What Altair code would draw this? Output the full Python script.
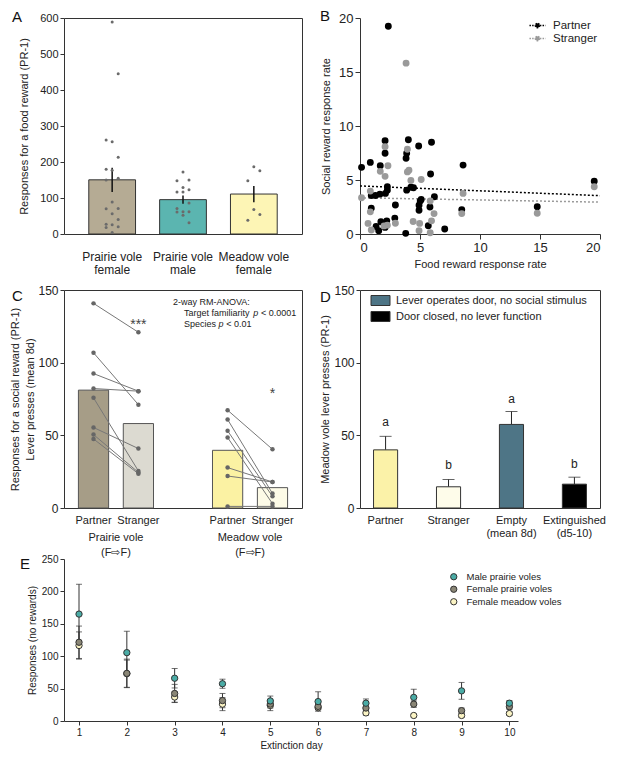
import altair as alt
import pandas as pd

FONT = "Liberation Sans"
INK = "#222222"
FRAME = "#333333"

# ---------------- sizes ----------------
WA, HA = 238, 216
WB, HB = 240, 216
WC, HC = 238, 218
WD, HD = 240, 218
WE, HE = 454, 162

# ---------------- Panel A data ----------------
a_groups = ["Prairie vole\nfemale", "Prairie vole\nmale", "Meadow vole\nfemale"]
a_means = [150.5, 95.4, 111.0]
a_sems = [33.5, 11.7, 22.5]
a_colors = ["#b5ab94", "#5bb5b0", "#fdf5b5"]
a_female = [589, 445, 261, 256, 213, 180, 177, 155, 150, 89, 71, 70, 56, 40, 27, 26, 20, 18, 4]
a_male = [172, 150, 148, 129, 123, 117, 117, 86, 71, 62, 61, 62, 52, 31]
a_meadow = [187, 176, 148, 68, 54, 38]

# ---------------- Panel B data ----------------
b_partner_x = [2.36, 2.09, 4.03, 5.96, 2.09, 3.89, 3.84, 4.89, 0.86, 1.69, 0.13, 5.88, 8.59,
               2.28, 2.28, 2.12, 3.89, 4.24, 4.46, 0.94, 1.29, 1.66, 6.2, 5.1, 5.02, 0.94,
               2.95, 4.92, 4.92, 5.83, 8.48, 2.9, 2.23, 1.74, 1.34, 1.56, 2.09, 5.69, 7.06,
               3.81, 14.77, 19.52]
b_partner_y = [19.24, 8.64, 8.73, 8.49, 7.48, 7.48, 7.02, 8.15, 6.63, 6.32, 6.17, 5.56, 6.38,
               4.37, 4.06, 3.76, 4.06, 4.33, 4.28, 3.57, 3.57, 3.69, 3.45, 3.2, 3.05, 2.38,
               2.69, 2.66, 2.2, 2.5, 2.26, 1.47, 1.22, 1.13, 0.7, 0.31, 0.61, 0.76, 0.46,
               0.06, 2.53, 4.89]
b_stranger_x = [3.84, 2.09, 3.95, 2.33, 1.69, 3.95, 4.08, 2.09, 4.24, 5.1, 0.13, 0.86, 0.86,
                8.59, 5.85, 6.17, 8.48, 14.77, 19.52, 0.67, 0.94, 2.28, 2.95, 4.43, 4.97,
                4.92, 5.96, 5.85, 2.0]
b_stranger_y = [15.82, 8.09, 7.85, 6.32, 5.8, 5.75, 5.9, 5.34, 4.95, 5.04, 3.36, 3.97, 2.05,
                3.76, 3.05, 1.89, 1.89, 1.92, 4.37, 0.98, 0.37, 0.82, 1.0, 1.16, 0.98,
                0.31, 1.22, 0.12, 0.75]
b_series = ["Partner", "Stranger"]
b_colors = ["#000000", "#9a9a9a"]
b_fit_x = [0, 20]
b_partner_fit = [4.45, 3.55]
b_stranger_fit = [3.35, 2.95]

# ---------------- Panel C data ----------------
c_species = ["Prairie vole\n(F\u21e8F)", "Meadow vole\n(F\u21e8F)"]
c_fam = ["Partner", "Stranger"]
c_means_prairie = [81.1, 58.1]
c_means_meadow = [39.7, 14.0]
c_colors = ["#a69d87", "#dcdad1", "#fbf2a3", "#fdfbe7"]
c_prairie_partner = [140.8, 106.8, 92.5, 82.2, 75.8, 55.4, 50.5, 47.5]
c_prairie_stranger = [120.9, 71.1, 80.4, 80.4, 25.5, 40.9, 24.5, 23.6]
c_meadow_partner = [67.3, 60.9, 53.1, 48.5, 27.8, 22.0, 1.1]
c_meadow_stranger = [40.4, 10.0, 8.0, 3.0, 17.9, 17.9, 1.1]
c_stars = ["***", "*"]
c_star_y = [128.6, 81.0]

# ---------------- Panel D data ----------------
d_cats = ["Partner", "Stranger", "Empty\n(mean 8d)", "Extinguished\n(d5-10)"]
d_means = [40.0, 14.6, 57.5, 16.4]
d_sems = [9.3, 5.0, 8.9, 4.8]
d_colors = ["#fbf2a8", "#fefcea", "#4e7586", "#000000"]
d_letters = ["a", "b", "a", "b"]
d_letter_y = [59.0, 29.5, 75.0, 30.6]
d_legend_labels = ["Lever operates door, no social stimulus", "Door closed, no lever function"]

# ---------------- Panel E data ----------------
e_days = [1, 2, 3, 4, 5, 6, 7, 8, 9, 10]
e_series = ["Male prairie voles", "Female prairie voles", "Female meadow voles"]
e_colors = ["#4aaca6", "#8a8676", "#fbf4c4"]
e_male_mean = [165.0, 105.5, 66.0, 57.5, 31.0, 30.0, 27.5, 36.5, 46.5, 27.5]
e_male_sem = [46.0, 33.0, 15.0, 7.0, 7.5, 15.0, 6.5, 12.5, 13.0, 4.0]
e_fp_mean = [121.5, 73.5, 42.5, 31.5, 26.0, 22.5, 20.0, 26.0, 16.0, 22.0]
e_fp_sem = [25.0, 22.0, 14.0, 11.0, 6.0, 4.0, 5.0, 5.0, 4.0, 4.0]
e_fm_mean = [116.5, 73.0, 37.0, 26.0, 24.0, 20.5, 12.5, 8.5, 8.5, 11.5]
e_fm_sem = [21.0, 21.0, 8.0, 10.0, 8.0, 3.0, 3.5, 2.0, 3.0, 3.0]


def letter(ch, x, y):
    return alt.Chart(pd.DataFrame({"t": [ch]})).mark_text(
        fontSize=15, align="left", baseline="alphabetic", color="#111111", font=FONT
    ).encode(text="t:N", x=alt.value(x), y=alt.value(y))


# ================= Panel A =================
a_bar_df = pd.DataFrame({"group": a_groups, "mean": a_means, "sem": a_sems})
a_bar_df["lo"] = a_bar_df["mean"] - a_bar_df["sem"]
a_bar_df["hi"] = a_bar_df["mean"] + a_bar_df["sem"]
a_dot_df = pd.DataFrame({
    "group": [a_groups[0]] * len(a_female) + [a_groups[1]] * len(a_male) + [a_groups[2]] * len(a_meadow),
    "gidx": [0] * len(a_female) + [1] * len(a_male) + [2] * len(a_meadow),
    "value": a_female + a_male + a_meadow,
})
xA = alt.X("group:N", sort=a_groups, scale=alt.Scale(paddingInner=0.34, paddingOuter=0.35),
           axis=alt.Axis(title=None, labelExpr="split(datum.label, '\\n')", labelAngle=0, ticks=False,
                         domain=False, labelFontSize=12, labelPadding=17, labelLineHeight=13))
yA_scale = alt.Scale(domain=[0, 600], nice=False)
yA_axis = alt.Axis(title="Responses for a food reward (PR-1)", values=[0, 100, 200, 300, 400, 500, 600],
                   tickSize=4, labelFontSize=11, titleFontSize=11, titlePadding=10, domain=False)
a_bars = alt.Chart(a_bar_df).mark_bar(stroke=FRAME, strokeWidth=1).encode(
    x=xA, y=alt.Y("mean:Q", scale=yA_scale, axis=yA_axis),
    color=alt.Color("group:N", scale=alt.Scale(domain=a_groups, range=a_colors), legend=None))
a_err = alt.Chart(a_bar_df).mark_rule(color="#111111", strokeWidth=1.5).encode(
    x=xA, y=alt.Y("lo:Q", scale=yA_scale, axis=yA_axis), y2="hi:Q")
a_dots = alt.Chart(a_dot_df).transform_window(
    rank="row_number()", groupby=["group"], sort=[alt.SortField("value", order="descending")]
).transform_calculate(xp="datum.gidx + ((datum.rank % 3) - 1) * 0.085").mark_circle(
    size=9, color="#6b6b6b", opacity=1).encode(
    x=alt.X("xp:Q", scale=alt.Scale(domain=[-0.68, 2.68], nice=False, zero=False), axis=None),
    y=alt.Y("value:Q", scale=yA_scale, axis=yA_axis))
a_main = alt.layer(a_bars, a_err)
panelA = alt.layer(a_main, a_dots, letter("A", -52, 4)).resolve_scale(x="independent").properties(
    width=WA, height=HA, view=alt.ViewBackground(stroke=FRAME, strokeWidth=1))

# ================= Panel B =================
b_df = pd.DataFrame({
    "x": b_partner_x + b_stranger_x,
    "y": b_partner_y + b_stranger_y,
    "series": ["Partner"] * len(b_partner_x) + ["Stranger"] * len(b_stranger_x),
})
b_fit_df = pd.DataFrame({
    "x": b_fit_x + b_fit_x,
    "y": b_partner_fit + b_stranger_fit,
    "series": ["Partner"] * 2 + ["Stranger"] * 2,
})
b_scale = alt.Scale(domain=b_series, range=b_colors)
b_legend = alt.Legend(title=None, orient="none", legendX=170, legendY=0,
                      symbolType="M-1.2,0L-0.35,0M0.35,0L1.2,0M0.33,0A0.33,0.33,0,1,1,-0.33,0A0.33,0.33,0,1,1,0.33,0Z",
                      symbolSize=180, symbolStrokeWidth=1.4, symbolDash=[1.5, 1.2],
                      labelFontSize=11.5, labelOffset=8, rowPadding=0, labelColor=INK)
bx = alt.X("x:Q", scale=alt.Scale(domain=[0, 20], nice=False),
           axis=alt.Axis(title="Food reward response rate", values=[0, 5, 10, 15, 20], tickSize=5,
                         labelFontSize=13, titleFontSize=11, titlePadding=4))
by = alt.Y("y:Q", scale=alt.Scale(domain=[0, 20], nice=False),
           axis=alt.Axis(title="Social reward response rate", values=[0, 5, 10, 15, 20], tickSize=5,
                         labelFontSize=13, titleFontSize=11, titlePadding=7))
b_fit = alt.Chart(b_fit_df).mark_line(strokeDash=[2, 2], strokeWidth=1.5).encode(
    x=bx, y=by, color=alt.Color("series:N", scale=b_scale, legend=b_legend))
b_pts = alt.Chart(b_df).mark_circle(size=24, opacity=1).encode(
    x=bx, y=by,
    color=alt.Color("series:N", scale=b_scale, legend=b_legend),
    stroke=alt.Stroke("series:N", scale=b_scale, legend=b_legend))
panelB = alt.layer(b_fit, b_pts, letter("B", -40, 3)).properties(
    width=WB, height=HB, view=alt.ViewBackground(stroke="transparent"))

# ================= Panel C =================
c_bar_df = pd.DataFrame({
    "species": [c_species[0]] * 2 + [c_species[1]] * 2,
    "fam": c_fam * 2,
    "mean": c_means_prairie + c_means_meadow,
})
c_bar_df["key"] = c_bar_df["species"] + "|" + c_bar_df["fam"]
c_keys = list(c_bar_df["key"])
rows = []
for i, (p, s) in enumerate(zip(c_prairie_partner, c_prairie_stranger)):
    rows.append({"id": f"p{i}", "species": c_species[0], "fam": "Partner", "value": p})
    rows.append({"id": f"p{i}", "species": c_species[0], "fam": "Stranger", "value": s})
for i, (p, s) in enumerate(zip(c_meadow_partner, c_meadow_stranger)):
    rows.append({"id": f"m{i}", "species": c_species[1], "fam": "Partner", "value": p})
    rows.append({"id": f"m{i}", "species": c_species[1], "fam": "Stranger", "value": s})
c_pair_df = pd.DataFrame(rows)
c_star_df = pd.DataFrame({"species": c_species, "fam": ["Stranger", "Stranger"], "y": c_star_y, "t": c_stars})

xC = alt.X("species:N", sort=c_species, scale=alt.Scale(paddingInner=0.44, paddingOuter=0.1075),
           axis=alt.Axis(title=None, labelExpr="split(datum.label, '\\n')", labelAngle=0, ticks=False,
                         domain=False, labelFontSize=11, labelPadding=23, labelLineHeight=15))
xoC = alt.XOffset("fam:N", sort=c_fam, scale=alt.Scale(paddingInner=0.327, paddingOuter=0))
yC_scale = alt.Scale(domain=[0, 150], nice=False)
yC_axis = alt.Axis(title=["Responses for a social reward (PR-1)", "Lever presses (mean 8d)"],
                   values=[0, 50, 100, 150], tickSize=4, labelFontSize=12, titleFontSize=11,
                   titlePadding=2, titleLineHeight=15, domain=False)
c_bars = alt.Chart(c_bar_df).mark_bar(stroke="#555555", strokeWidth=1).encode(
    x=xC, xOffset=xoC, y=alt.Y("mean:Q", scale=yC_scale, axis=yC_axis),
    color=alt.Color("key:N", scale=alt.Scale(domain=c_keys, range=c_colors), legend=None))
c_lines = alt.Chart(c_pair_df).mark_line(color="#777777", strokeWidth=1).encode(
    x=xC, xOffset=xoC, y=alt.Y("value:Q", scale=yC_scale, axis=yC_axis), detail="id:N",
    order=alt.Order("fam:N"))
c_dots = alt.Chart(c_pair_df).mark_circle(size=20, color="#666666", opacity=1).encode(
    x=xC, xOffset=xoC, y=alt.Y("value:Q", scale=yC_scale, axis=yC_axis))
c_cat = alt.Chart(c_bar_df).mark_text(fontSize=11, baseline="middle", color=INK, font=FONT).encode(
    x=xC, xOffset=xoC, y=alt.value(HC + 13), text="fam:N")
c_star = alt.Chart(c_star_df).mark_text(fontSize=14, baseline="middle", color="#444444", font=FONT, dy=4).encode(
    x=xC, xOffset=xoC, y=alt.Y("y:Q", scale=yC_scale, axis=yC_axis), text="t:N")


def note(t, x, y, italic=False):
    return alt.Chart(pd.DataFrame({"t": [t]})).mark_text(
        fontSize=9, align="left", baseline="middle", color=INK, font=FONT,
        fontStyle="italic" if italic else "normal"
    ).encode(text="t:N", x=alt.value(x), y=alt.value(y))


c_notes = [
    note("2-way RM-ANOVA:", 109, 12),
    note("Target familiarity", 120, 23), note("p", 189.2, 23, True), note("< 0.0001", 197, 23),
    note("Species", 120, 34), note("p", 154.5, 34, True), note("< 0.01", 162.3, 34),
]
panelC = alt.layer(c_bars, c_lines, c_dots, c_cat, c_star, *c_notes, letter("C", -52, 11)).properties(
    width=WC, height=HC, view=alt.ViewBackground(stroke=FRAME, strokeWidth=1))

# ================= Panel D =================
d_df = pd.DataFrame({"cat": d_cats, "mean": d_means, "sem": d_sems, "letter": d_letters, "ly": d_letter_y})
d_df["hi"] = d_df["mean"] + d_df["sem"]
xD = alt.X("cat:N", sort=d_cats, scale=alt.Scale(paddingInner=0.617, paddingOuter=0.215),
           axis=alt.Axis(title=None, labelExpr="split(datum.label, '\\n')", labelAngle=0, ticks=False,
                         domain=False, labelFontSize=11, labelPadding=6, labelLineHeight=13))
yD_scale = alt.Scale(domain=[0, 150], nice=False)
yD_axis = alt.Axis(title="Meadow vole lever presses (PR-1)", values=[0, 50, 100, 150], tickSize=4,
                   labelFontSize=12, titleFontSize=11, titlePadding=3, domain=False)
d_label_expr = ("indexof(datum.label, 'Empty') >= 0 ? '" + d_legend_labels[0] + "' : '" + d_legend_labels[1] + "'")
d_legend = alt.Legend(values=[d_cats[2], d_cats[3]], title=None, orient="none", legendX=15, legendY=5,
                      labelExpr=d_label_expr, symbolType="M-1.9,-1H1.9V1H-1.9Z", symbolSize=100,
                      symbolStrokeColor=FRAME, symbolStrokeWidth=1, labelFontSize=11, labelOffset=10,
                      rowPadding=1, labelColor=INK, labelLimit=400)
d_err = alt.Chart(d_df).mark_rule(color="#222222", strokeWidth=1).encode(
    x=xD, y=alt.Y("mean:Q", scale=yD_scale, axis=yD_axis), y2="hi:Q")
d_cap = alt.Chart(d_df).mark_tick(orient="horizontal", size=12, thickness=1, color="#222222").encode(
    x=xD, y=alt.Y("hi:Q", scale=yD_scale, axis=yD_axis))
d_bars = alt.Chart(d_df).mark_bar(stroke=FRAME, strokeWidth=1).encode(
    x=xD, y=alt.Y("mean:Q", scale=yD_scale, axis=yD_axis),
    color=alt.Color("cat:N", scale=alt.Scale(domain=d_cats, range=d_colors), legend=d_legend))
d_let = alt.Chart(d_df).mark_text(fontSize=12, baseline="middle", color=INK, font=FONT).encode(
    x=xD, y=alt.Y("ly:Q", scale=yD_scale, axis=yD_axis), text="letter:N")
panelD = alt.layer(d_err, d_cap, d_bars, d_let, letter("D", -40, 12)).properties(
    width=WD, height=HD, view=alt.ViewBackground(stroke=FRAME, strokeWidth=1))

# ================= Panel E =================
rows = []
for s, m_list, se_list in [(e_series[2], e_fm_mean, e_fm_sem),
                           (e_series[1], e_fp_mean, e_fp_sem),
                           (e_series[0], e_male_mean, e_male_sem)]:
    for d, m, se in zip(e_days, m_list, se_list):
        rows.append({"series": s, "day": d, "mean": m, "lo": m - se, "hi": m + se})
e_df = pd.DataFrame(rows)
e_df["z"] = range(len(e_df))
xE = alt.X("day:Q", scale=alt.Scale(domain=[0.686, 10.18], nice=False, zero=False),
           axis=alt.Axis(title="Extinction day", values=e_days, format="d", tickSize=4, labelFontSize=10,
                         titleFontSize=10, labelPadding=2, titlePadding=3))
yE_scale = alt.Scale(domain=[0, 250], nice=False)
yE_axis = alt.Axis(title="Responses (no rewards)", values=[0, 50, 100, 150, 200, 250], tickSize=4,
                   labelFontSize=10, titleFontSize=10, titlePadding=4)
e_rule = alt.Chart(e_df).mark_rule(strokeWidth=1, color="#333333").encode(
    x=xE, y=alt.Y("lo:Q", scale=yE_scale, axis=yE_axis), y2="hi:Q")
e_cap_hi = alt.Chart(e_df).mark_tick(orient="horizontal", size=6, thickness=1, color="#333333").encode(
    x=xE, y=alt.Y("hi:Q", scale=yE_scale, axis=yE_axis))
e_cap_lo = alt.Chart(e_df).mark_tick(orient="horizontal", size=6, thickness=1, color="#333333").encode(
    x=xE, y=alt.Y("lo:Q", scale=yE_scale, axis=yE_axis))
e_pts = alt.Chart(e_df).mark_point(filled=True, size=40, opacity=1, stroke="#333333", strokeWidth=1).encode(
    x=xE, y=alt.Y("mean:Q", scale=yE_scale, axis=yE_axis),
    fill=alt.Fill("series:N", scale=alt.Scale(domain=e_series, range=e_colors),
                  legend=alt.Legend(title=None, orient="none", legendX=385, legendY=13, symbolType="circle",
                                    symbolSize=40, symbolStrokeColor="#333333", symbolStrokeWidth=1,
                                    labelFontSize=9.5, labelOffset=8, rowPadding=1.5, labelColor=INK)),
    order=alt.Order("z:Q"))
panelE = alt.layer(e_rule, e_cap_hi, e_cap_lo, e_pts, letter("E", -44, 10)).properties(
    width=WE, height=HE, view=alt.ViewBackground(stroke="transparent"))

top = alt.concat(
    panelA, panelB, panelC, panelD,
    columns=2, spacing={"row": 56, "column": 58}, bounds="flush",
).resolve_scale(
    color="independent", fill="independent", stroke="independent"
).resolve_legend(
    color="independent", fill="independent", stroke="independent"
)

chart = alt.vconcat(top, panelE, spacing=-5).resolve_scale(
    color="independent", fill="independent", stroke="independent"
).resolve_legend(
    color="independent", fill="independent", stroke="independent"
).properties(
    padding={"left": 1, "top": 0, "right": 0, "bottom": 0}
).configure_view(
    stroke="transparent"
).configure_axis(
    grid=False, domainColor=FRAME, tickColor=FRAME, labelColor=INK, titleColor=INK,
    labelFont=FONT, titleFont=FONT, titleFontWeight="normal"
).configure_legend(
    labelFont=FONT
).configure_text(font=FONT)

chart.save("out.html", embed_options={"renderer": "svg", "actions": False})
